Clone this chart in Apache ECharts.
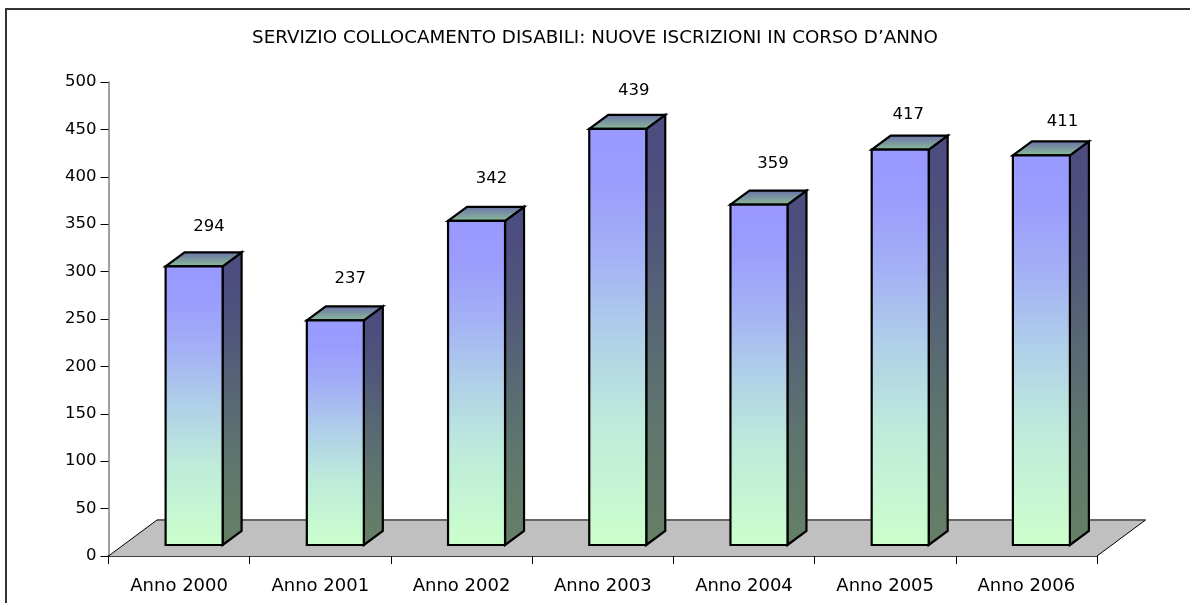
<!DOCTYPE html>
<html><head><meta charset="utf-8">
<style>html,body{margin:0;padding:0;background:#fff}#c{width:1190px;height:603px}</style>
<script src="https://cdn.jsdelivr.net/npm/echarts@6/dist/echarts.min.js"></script></head>
<body><div id="c"></div>
<script>
const categories = ['Anno 2000','Anno 2001','Anno 2002','Anno 2003','Anno 2004','Anno 2005','Anno 2006'];
const values = [294,237,342,439,359,417,411];
const titleText = 'SERVIZIO COLLOCAMENTO DISABILI: NUOVE ISCRIZIONI IN CORSO D\u2019ANNO';
// label nudges in px (layout only, separate from the values)
const labelDx = [0,0,0,1,-1,-7,6];
const labelLift = [26,28,28,24,27,21,20];
const FONT = '"DejaVu Sans"';
const chart = echarts.init(document.getElementById('c'), null, {renderer:'canvas'});
const grad = (stops)=>new echarts.graphic.LinearGradient(0,0,0,1,stops);
const frontStops=[{offset:0,color:'#9999ff'},{offset:.12,color:'#9a9cfd'},{offset:.3,color:'#a3b0f5'},{offset:.5,color:'#b0d0e8'},{offset:.7,color:'#bdeadb'},{offset:1,color:'#ccffcc'}];
const sideStops=[{offset:0,color:'#4c4c80'},{offset:.12,color:'#4d4e7e'},{offset:.3,color:'#51587a'},{offset:.5,color:'#586874'},{offset:.7,color:'#5e756e'},{offset:1,color:'#668066'}];
const topStops=[{offset:0,color:'#6a6eaa'},{offset:1,color:'#8cc096'}];
const DX=19, DY=14, OFFX=15, OFFY=11, BW=57;
chart.setOption({
  animation:false,
  title:{text:titleText,left:590,top:24,textAlign:'center',textStyle:{fontFamily:FONT,fontSize:18.3,fontWeight:'normal',color:'#000'}},
  grid:{left:108.5,right:93,top:82,bottom:47,containLabel:false},
  xAxis:{type:'category',data:categories,boundaryGap:true,
    axisLine:{lineStyle:{color:'#000',width:1.5}},
    axisTick:{show:true,length:8,lineStyle:{color:'#000'},alignWithLabel:false},
    axisLabel:{fontFamily:FONT,fontSize:18,color:'#000',margin:21,interval:0},splitLine:{show:false}},
  yAxis:{type:'value',min:0,max:500,interval:50,
    axisLine:{show:true,lineStyle:{color:'#808080',width:1.5}},
    axisTick:{show:true,length:8,lineStyle:{color:'#000'}},
    axisLabel:{fontFamily:FONT,fontSize:16.5,color:'#000',margin:12,padding:[2,0,0,0]},splitLine:{show:false}},
  series:[
   {type:'custom',z:1,silent:true,data:[0],encode:{x:-1,y:-1},clip:false,
    renderItem(p,api){
      const c=p.coordSys, l=c.x, r=c.x+c.width, b=c.y+c.height, t=b-36, d=48.5;
      return {type:'group',children:[
        {type:'polygon',shape:{points:[[l,b],[l+d,t],[r+d,t],[r,b]]},style:{fill:'#c0c0c0',stroke:null}},
        {type:'line',shape:{x1:l+d,y1:t,x2:r+d,y2:t},style:{stroke:'#666',lineWidth:2}},
        {type:'line',shape:{x1:l,y1:b,x2:l+d,y2:t},style:{stroke:'#000',lineWidth:1}},
        {type:'line',shape:{x1:r,y1:b,x2:r+d,y2:t},style:{stroke:'#000',lineWidth:1}}
      ]};
    }},
   {type:'custom',z:3,silent:true,clip:false,data:values.map((v,i)=>[i,v]),encode:{x:0,y:1},
    renderItem(p,api){
      const i=api.value(0), v=api.value(1);
      const base=api.coord([i,0]), top=api.coord([i,v]);
      const x0=base[0]+OFFX-BW/2, x1=x0+BW, yb=base[1]-OFFY, yt=top[1]-OFFY;
      const st={stroke:'#000',lineWidth:2.2,lineJoin:'miter'};
      return {type:'group',children:[
        {type:'polygon',shape:{points:[[x1,yt],[x1+DX,yt-DY],[x1+DX,yb-DY],[x1,yb]]},style:{...st,fill:grad(sideStops)}},
        {type:'polygon',shape:{points:[[x0,yt],[x0+DX,yt-DY],[x1+DX,yt-DY],[x1,yt]]},style:{...st,fill:grad(topStops)}},
        {type:'rect',shape:{x:x0,y:yt,width:BW,height:yb-yt},style:{...st,fill:grad(frontStops)}},
        {type:'text',style:{x:x0+BW/2+15+labelDx[i],y:yt-DY-labelLift[i],text:String(v),fontFamily:FONT,fontSize:16.5,fill:'#000',align:'center',verticalAlign:'middle'}}
      ]};
    }}
  ],
  graphic:[
    {type:'line',silent:true,shape:{x1:6,y1:603,x2:6,y2:9},style:{stroke:'#333',lineWidth:2}},
    {type:'line',silent:true,shape:{x1:5,y1:9,x2:1190,y2:9},style:{stroke:'#333',lineWidth:2}}
  ]
});
</script></body></html>
